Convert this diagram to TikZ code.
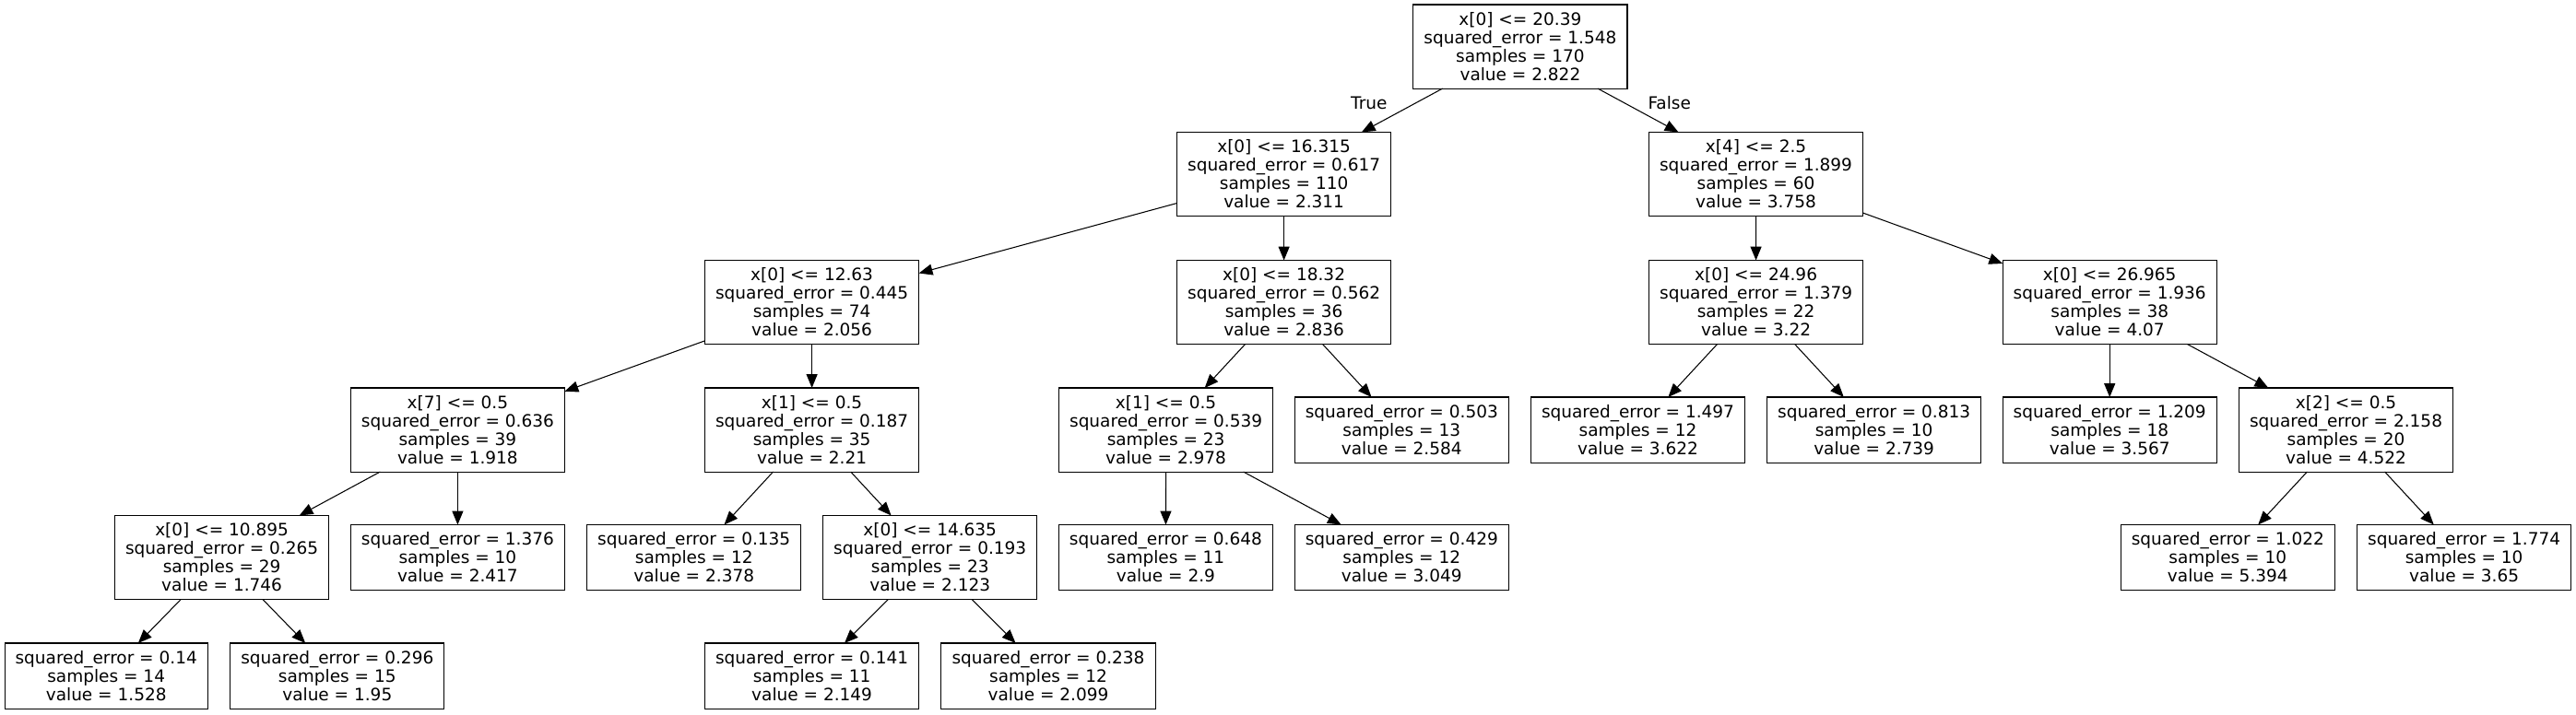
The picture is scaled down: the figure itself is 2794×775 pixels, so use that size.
\documentclass[tikz,border=0pt]{standalone}
\usepackage{fontspec}
\setmainfont{DejaVu Sans}
\usetikzlibrary{arrows.meta}
\begin{document}
\begin{tikzpicture}[x=0.01cm,y=-0.01cm,
  tn/.style={draw=black, line width=0.3pt, rectangle, inner sep=0pt, outer sep=0pt,
    minimum width=2.32cm, minimum height=0.91cm, align=center,
    font=\fontsize{5.26pt}{5.69pt}\selectfont},
  lf/.style={tn, minimum height=0.71cm},
  conn/.style={-{Triangle[length=4.2pt,width=3.4pt]}, line width=0.3pt},
  lbl/.style={font=\fontsize{5.26pt}{5.69pt}\selectfont, inner sep=0pt}]
\useasboundingbox (0,0) rectangle (2794,775);
% rank 0
\node[tn] (root) at (1648.9,50.5) {x[0] <= 20.39\\squared\_error = 1.548\\samples = 170\\value = 2.822};
% rank 1
\node[tn] (A) at (1392.6,189) {x[0] <= 16.315\\squared\_error = 0.617\\samples = 110\\value = 2.311};
\node[tn] (I) at (1904.5,189) {x[4] <= 2.5\\squared\_error = 1.899\\samples = 60\\value = 3.758};
% rank 2
\node[tn] (B) at (880.6,328) {x[0] <= 12.63\\squared\_error = 0.445\\samples = 74\\value = 2.056};
\node[tn] (G) at (1392.6,328) {x[0] <= 18.32\\squared\_error = 0.562\\samples = 36\\value = 2.836};
\node[tn] (J) at (1904.6,328) {x[0] <= 24.96\\squared\_error = 1.379\\samples = 22\\value = 3.22};
\node[tn] (K) at (2288.2,328) {x[0] <= 26.965\\squared\_error = 1.936\\samples = 38\\value = 4.07};
% rank 3
\node[tn] (C) at (496.4,466.5) {x[7] <= 0.5\\squared\_error = 0.636\\samples = 39\\value = 1.918};
\node[tn] (E) at (880.6,466.5) {x[1] <= 0.5\\squared\_error = 0.187\\samples = 35\\value = 2.21};
\node[tn] (H) at (1264.6,466.5) {x[1] <= 0.5\\squared\_error = 0.539\\samples = 23\\value = 2.978};
\node[lf] (l503) at (1520.3,466.5) {squared\_error = 0.503\\samples = 13\\value = 2.584};
\node[lf] (l1497) at (1776.5,466.5) {squared\_error = 1.497\\samples = 12\\value = 3.622};
\node[lf] (l813) at (2032.6,466.5) {squared\_error = 0.813\\samples = 10\\value = 2.739};
\node[lf] (l1209) at (2288.2,466.5) {squared\_error = 1.209\\samples = 18\\value = 3.567};
\node[tn] (L) at (2544.5,466.5) {x[2] <= 0.5\\squared\_error = 2.158\\samples = 20\\value = 4.522};
% rank 4
\node[tn] (D) at (240.6,605) {x[0] <= 10.895\\squared\_error = 0.265\\samples = 29\\value = 1.746};
\node[lf] (l1376) at (496.4,605) {squared\_error = 1.376\\samples = 10\\value = 2.417};
\node[lf] (l135) at (752.7,605) {squared\_error = 0.135\\samples = 12\\value = 2.378};
\node[tn] (F) at (1008.7,605) {x[0] <= 14.635\\squared\_error = 0.193\\samples = 23\\value = 2.123};
\node[lf] (l648) at (1264.4,605) {squared\_error = 0.648\\samples = 11\\value = 2.9};
\node[lf] (l429) at (1520.3,605) {squared\_error = 0.429\\samples = 12\\value = 3.049};
\node[lf] (l1022) at (2416.3,605) {squared\_error = 1.022\\samples = 10\\value = 5.394};
\node[lf] (l1774) at (2672.6,605) {squared\_error = 1.774\\samples = 10\\value = 3.65};
% rank 5
\node[lf, minimum width=2.196cm] (l014) at (115.2,733.5) {squared\_error = 0.14\\samples = 14\\value = 1.528};
\node[lf] (l296) at (365.8,733.5) {squared\_error = 0.296\\samples = 15\\value = 1.95};
\node[lf] (l141) at (880.6,733.5) {squared\_error = 0.141\\samples = 11\\value = 2.149};
\node[lf] (l238) at (1137,733.5) {squared\_error = 0.238\\samples = 12\\value = 2.099};
% labels
\node[lbl] (ltrue) at (1484.8,111.7) {True};
\node[lbl] (lfalse) at (1810.7,111.7) {False};
% edges
\draw[conn] (root) -- (A);
\draw[conn] (root) -- (I);
\draw[conn] (A) -- (B);
\draw[conn] (A) -- (G);
\draw[conn] (B) -- (C);
\draw[conn] (B) -- (E);
\draw[conn] (C) -- (D);
\draw[conn] (C) -- (l1376);
\draw[conn] (D) -- (l014);
\draw[conn] (D) -- (l296);
\draw[conn] (E) -- (l135);
\draw[conn] (E) -- (F);
\draw[conn] (F) -- (l141);
\draw[conn] (F) -- (l238);
\draw[conn] (G) -- (H);
\draw[conn] (G) -- (l503);
\draw[conn] (H) -- (l648);
\draw[conn] (H) -- (l429);
\draw[conn] (I) -- (J);
\draw[conn] (I) -- (K);
\draw[conn] (J) -- (l1497);
\draw[conn] (J) -- (l813);
\draw[conn] (K) -- (l1209);
\draw[conn] (K) -- (L);
\draw[conn] (L) -- (l1022);
\draw[conn] (L) -- (l1774);
\end{tikzpicture}
\end{document}
